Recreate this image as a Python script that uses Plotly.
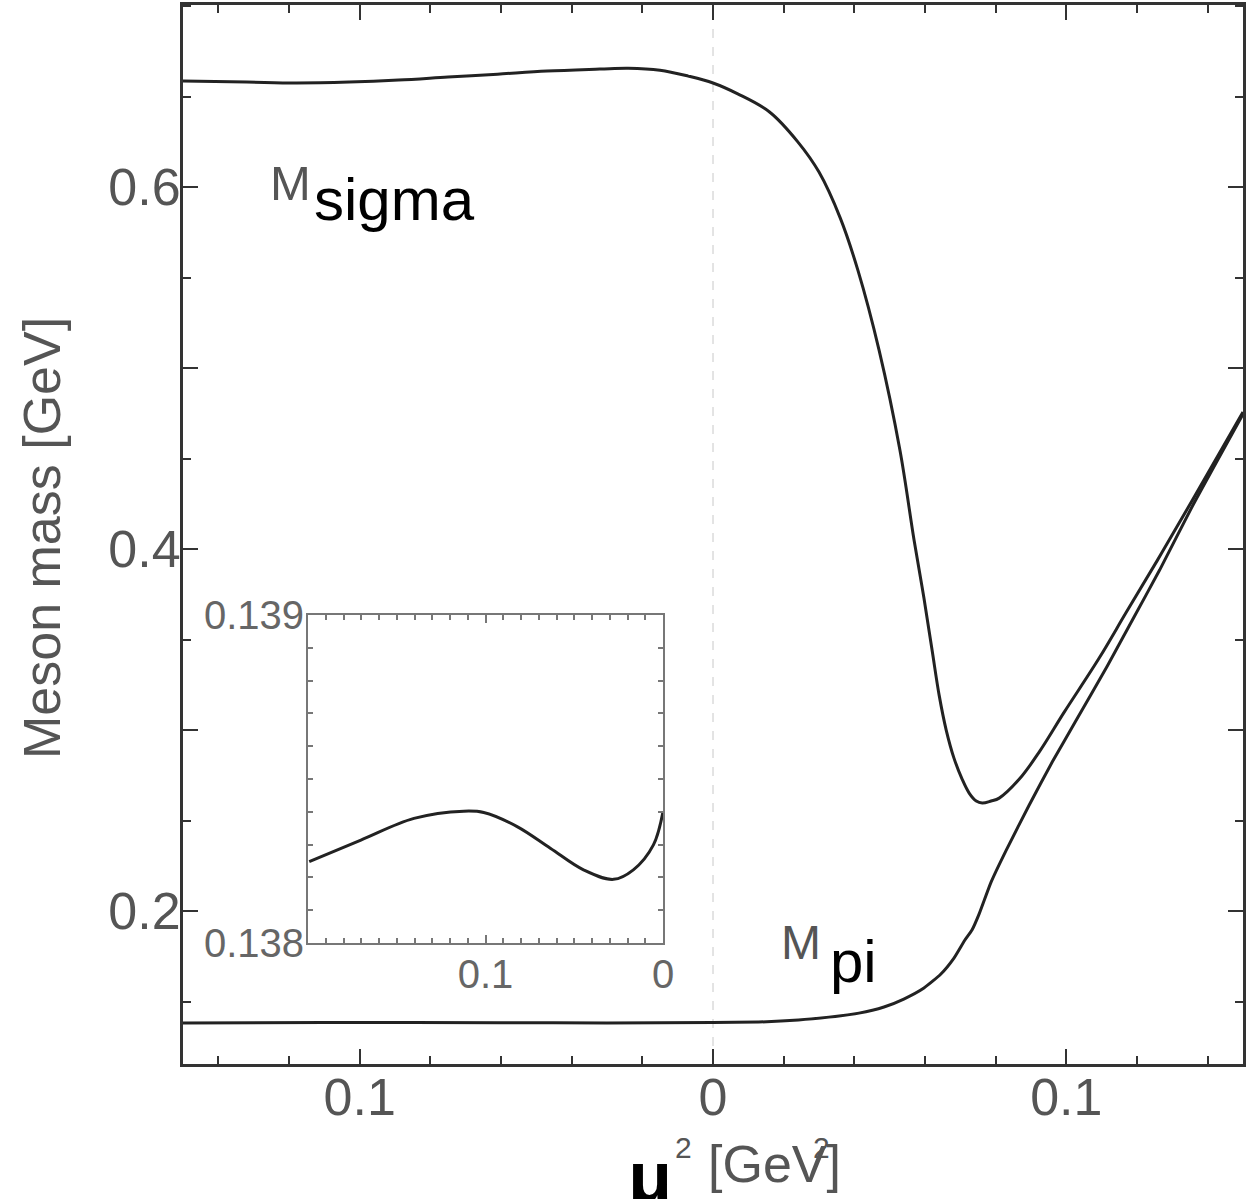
import plotly.graph_objects as go

# Sigma meson mass vs mu^2 (GeV^2 / GeV)
mu2_sigma = [-0.150, -0.132, -0.118, -0.103, -0.089, -0.075, -0.061, -0.047, -0.032, -0.024,
             -0.015, -0.007, 0.000, 0.007, 0.016, 0.024, 0.030, 0.036, 0.041, 0.047,
             0.0529, 0.0569, 0.0597, 0.0620, 0.0640, 0.0660, 0.0682, 0.0705, 0.0725, 0.0745,
             0.0762, 0.0787, 0.0810, 0.0867, 0.0923, 0.0994, 0.1093, 0.1170, 0.1258, 0.1357,
             0.1500]
m_sigma = [0.6586, 0.6580, 0.6575, 0.6580, 0.6591, 0.6608, 0.6624, 0.6641, 0.6652, 0.6657,
           0.6646, 0.6613, 0.6575, 0.6515, 0.6415, 0.6250, 0.6083, 0.5830, 0.5541, 0.5099,
           0.4547, 0.4050, 0.3729, 0.3442, 0.3193, 0.3000, 0.2845, 0.2729, 0.2652, 0.2608,
           0.2597, 0.2608, 0.2624, 0.2729, 0.2878, 0.3099, 0.3398, 0.3652, 0.3939, 0.4271,
           0.4757]

# Pion mass vs mu^2
mu2_pi = [-0.150, -0.110, -0.060, -0.030, 0.000, 0.0129, 0.0242, 0.0328, 0.0413, 0.0484,
          0.0540, 0.0597, 0.0645, 0.0682, 0.0713, 0.0733, 0.0753, 0.0787, 0.0830, 0.0895,
          0.0960, 0.1025, 0.1116, 0.1187, 0.1264, 0.1357, 0.1500]
m_pi = [0.1382, 0.1384, 0.1383, 0.1382, 0.1384, 0.1387, 0.1398, 0.1414, 0.1436, 0.1470,
        0.1514, 0.1575, 0.1652, 0.1740, 0.1840, 0.1895, 0.1983, 0.2160, 0.2337, 0.2586,
        0.2823, 0.3044, 0.3354, 0.3608, 0.3884, 0.4238, 0.4746]

# Inset: pion mass for mu^2 < 0
mu2_inset = [-0.1993, -0.1702, -0.1403, -0.1122, -0.1010, -0.0822, -0.0635, -0.0448,
             -0.0279, -0.0167, -0.0054, 0.0]
m_pi_inset = [0.138248, 0.138314, 0.138380, 0.138402, 0.138398, 0.138355, 0.138289,
              0.138223, 0.138194, 0.138223, 0.138299, 0.138400]

x_tickvals = [-0.1, 0.0, 0.1]
x_ticktext = ["0.1", "0", "0.1"]
y_tickvals = [0.2, 0.3, 0.4, 0.5, 0.6]
y_ticktext = ["0.2", "", "0.4", "", "0.6"]
inset_x_tickvals = [-0.1, 0.0]
inset_x_ticktext = ["0.1", "0"]
inset_y_tickvals = [0.138, 0.139]
inset_y_ticktext = ["0.138", "0.139"]

W, H = 1248, 1199
L, R, T, B = 183, 5, 5, 135
PW, PH = W - L - R, H - T - B


def px(x):
    return (x - L) / PW


def py(y):
    return (H - B - y) / PH


FONT = "Liberation Sans"
LINE = "#222"
FRAME = "#333"
LABEL = "#555"

fig = go.Figure()
fig.add_trace(go.Scatter(x=mu2_sigma, y=m_sigma, mode="lines",
                         line=dict(color=LINE, width=3, shape="spline", smoothing=1.0),
                         xaxis="x", yaxis="y", showlegend=False))
fig.add_trace(go.Scatter(x=mu2_pi, y=m_pi, mode="lines",
                         line=dict(color=LINE, width=3, shape="spline", smoothing=0.5),
                         xaxis="x", yaxis="y", showlegend=False))
fig.add_trace(go.Scatter(x=mu2_inset, y=m_pi_inset, mode="lines",
                         line=dict(color=LINE, width=3, shape="spline", smoothing=1.0),
                         xaxis="x2", yaxis="y2", showlegend=False))

main_axis = dict(showline=True, linecolor=FRAME, linewidth=3, mirror="allticks",
                 ticks="inside", ticklen=15, tickwidth=2, tickcolor=FRAME,
                 showgrid=False, zeroline=False, automargin=False,
                 tickfont=dict(family=FONT, size=52, color=LABEL))

inset_axis = dict(showline=True, linecolor="#777", linewidth=2, mirror="allticks",
                  ticks="inside", ticklen=8, tickwidth=1.5, tickcolor="#777",
                  showgrid=False, zeroline=False, automargin=False,
                  tickfont=dict(family=FONT, size=40, color="#666"))

fig.update_layout(
    width=W, height=H,
    margin=dict(l=L, r=R, t=T, b=B, autoexpand=False),
    paper_bgcolor="white", plot_bgcolor="white",
    xaxis=dict(main_axis, range=[-0.15, 0.15], tickmode="array",
               tickvals=x_tickvals, ticktext=x_ticktext, ticklabelstandoff=-14,
               minor=dict(dtick=0.02, tick0=0, ticks="inside", ticklen=8,
                          tickwidth=2, tickcolor=FRAME),
               domain=[0, 1], anchor="y"),
    yaxis=dict(main_axis, range=[0.1155, 0.7006], tickmode="array",
               tickvals=y_tickvals, ticktext=y_ticktext, ticklabelstandoff=-11,
               minor=dict(dtick=0.05, tick0=0, ticks="inside", ticklen=8,
                          tickwidth=2, tickcolor=FRAME),
               domain=[0, 1], anchor="x"),
    xaxis2=dict(inset_axis, range=[-0.2, 0.0], tickmode="array",
                tickvals=inset_x_tickvals, ticktext=inset_x_ticktext,
                ticklabelstandoff=-5,
                minor=dict(dtick=0.01, tick0=0, ticks="inside", ticklen=5,
                           tickwidth=1.5, tickcolor="#777"),
                domain=[px(308), px(663)], anchor="y2"),
    yaxis2=dict(inset_axis, range=[0.138, 0.139], tickmode="array",
                tickvals=inset_y_tickvals, ticktext=inset_y_ticktext,
                ticklabelstandoff=-6,
                minor=dict(dtick=0.0001, tick0=0.138, ticks="inside", ticklen=5,
                           tickwidth=1.5, tickcolor="#777"),
                domain=[py(943), py(615)], anchor="x2"),
)

# white backing for the inset panel
fig.add_shape(type="rect", xref="paper", yref="paper",
              x0=px(308), x1=px(663), y0=py(943), y1=py(615),
              fillcolor="white", line=dict(width=0), layer="below")

# dashed marker at mu^2 = 0
fig.add_shape(type="line", xref="x", yref="paper", x0=0, x1=0, y0=0, y1=1,
              line=dict(color="#c8c8c8", width=1, dash="dash"), layer="below")


def label(text, x, y, size, color, bold=False, angle=0, xanchor="left"):
    fig.add_annotation(text=f"<b>{text}</b>" if bold else text,
                       xref="paper", yref="paper", x=px(x), y=py(y),
                       xanchor=xanchor, yanchor="middle", showarrow=False,
                       textangle=angle,
                       font=dict(family=FONT, size=size, color=color))


# curve labels
label("M", 268, 183, 49, "#555")
label("sigma", 312, 199, 60, "black")
label("M", 779, 942, 48, "#555")
label("pi", 828, 961, 60, "black")

# axis titles
label("Meson mass [GeV]", 42, 538, 52, "#555", angle=-90, xanchor="center")
label("μ", 626, 1177, 72, "black", bold=True)
label("2", 673, 1147, 30, "#555")
label("[GeV]", 706, 1164, 52, "#555")
label("2", 811, 1147, 30, "#555")

fig.write_html("out.html")
